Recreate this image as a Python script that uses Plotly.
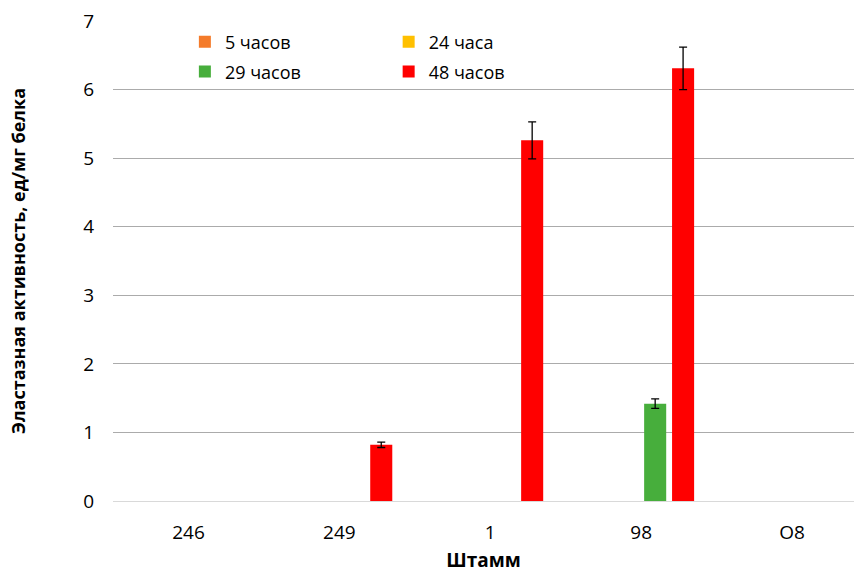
import plotly.graph_objects as go

categories = ["246", "249", "1", "98", "O8"]
series_names = ["5 часов", "24 часа", "29 часов", "48 часов"]
series_colors = ["#F47B2A", "#FFC000", "#47AE3C", "#FF0000"]

vals_5h = [None, None, None, None, None]
vals_24h = [None, None, None, None, None]
vals_29h = [None, None, None, 1.42, None]
vals_48h = [None, 0.82, 5.26, 6.31, None]

err_5h = [0, 0, 0, 0, 0]
err_24h = [0, 0, 0, 0, 0]
err_29h = [0, 0, 0, 0.07, 0]
err_48h = [0, 0.04, 0.27, 0.31, 0]

all_vals = [vals_5h, vals_24h, vals_29h, vals_48h]
all_errs = [err_5h, err_24h, err_29h, err_48h]

FONT = "Open Sans"

fig = go.Figure()
legend_ids = ["legend", "legend2", "legend3", "legend4"]
for name, color, v, e, lg in zip(series_names, series_colors, all_vals, all_errs, legend_ids):
    fig.add_trace(go.Bar(
        x=categories, y=v, name=name,
        marker=dict(color=color, line=dict(width=0)),
        error_y=dict(type="data", array=e, visible=True, color="#000000",
                     thickness=1.3, width=4),
        legend=lg, showlegend=True,
    ))

def leg(x, y):
    return dict(x=x, y=y, xref="paper", yref="paper", xanchor="left", yanchor="middle",
                bgcolor="rgba(0,0,0,0)", font=dict(family=FONT, size=18, color="#000000"),
                itemwidth=30)

fig.update_layout(
    width=854, height=573,
    margin=dict(l=113, r=0, t=21, b=72),
    paper_bgcolor="white", plot_bgcolor="white",
    font=dict(family=FONT, color="#000000"),
    barmode="group", bargap=0.26, bargroupgap=0.21,
    showlegend=True,
    legend=leg(0.097, 0.956),
    legend2=leg(0.372, 0.956),
    legend3=leg(0.097, 0.894),
    legend4=leg(0.372, 0.894),
    xaxis=dict(
        type="category", range=[-0.5, 4.41],
        showgrid=False, showline=True, linecolor="#D9D9D9", linewidth=1,
        ticks="", tickfont=dict(family=FONT, size=19, color="#000000"),
        ticklabelstandoff=14,
        title=dict(text="<b>Штамм</b>", font=dict(family=FONT, size=19, color="#000000"),
                   standoff=13),
    ),
    yaxis=dict(
        range=[0, 7], dtick=1, showgrid=True, gridcolor="#ABABAB", gridwidth=1,
        zeroline=True, zerolinecolor="#D9D9D9", zerolinewidth=1,
        showline=False, ticks="",
        tickfont=dict(family=FONT, size=19, color="#000000"),
        ticklabelstandoff=18,
        title=dict(text="<b>Эластазная активность, ед/мг белка</b>",
                   font=dict(family=FONT, size=18, color="#000000"), standoff=52),
    ),
)

fig.write_html("out.html", config={"displayModeBar": False},
               post_script="document.body.style.margin='0';")
